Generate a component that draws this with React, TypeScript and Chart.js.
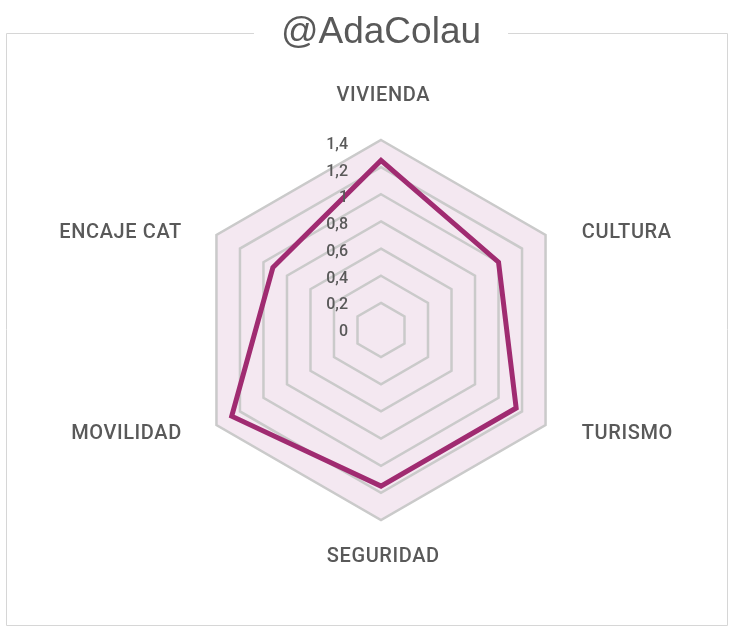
import React, { useEffect, useRef } from "react";
import { Chart, registerables } from "chart.js";

Chart.register(...registerables);

const titleText = "@AdaColau";
const categories = ["VIVIENDA", "CULTURA", "TURISMO", "SEGURIDAD", "MOVILIDAD", "ENCAJE CAT"];
const seriesValues = [1.25, 1.0, 1.15, 1.15, 1.27, 0.92];
const tickValues = [0, 0.2, 0.4, 0.6, 0.8, 1, 1.2, 1.4];
const tickLabels = ["0", "0,2", "0,4", "0,6", "0,8", "1", "1,2", "1,4"];

const TEXT = "#595959";
const TITLE_FONT = "normal 37px 'Liberation Sans', Arial, sans-serif";

const framePlugin = {
  id: "frame",
  beforeDraw(chart: any) {
    const ctx = chart.ctx;
    const r = chart.scales.r;
    ctx.save();
    ctx.beginPath();
    for (let i = 0; i < categories.length; i++) {
      const p = r.getPointPosition(i, r.drawingArea);
      if (i === 0) ctx.moveTo(p.x, p.y);
      else ctx.lineTo(p.x, p.y);
    }
    ctx.closePath();
    ctx.fillStyle = "#f4e8f1";
    ctx.fill();

    ctx.font = TITLE_FONT;
    const tw = ctx.measureText(titleText).width;
    const tb = chart.titleBlock;
    const cx = (tb.left + tb.right) / 2;
    const gl = cx - tw / 2 - 27;
    const gr = cx + tw / 2 + 27;
    const L = 6.5, T = 33.5, R = 727.5, B = 625.5;
    ctx.strokeStyle = "#d6d6d6";
    ctx.lineWidth = 1;
    ctx.beginPath();
    ctx.moveTo(gl, T);
    ctx.lineTo(L, T);
    ctx.lineTo(L, B);
    ctx.lineTo(R, B);
    ctx.lineTo(R, T);
    ctx.lineTo(gr, T);
    ctx.stroke();
    ctx.restore();
  },
  afterDraw(chart: any) {
    const ctx = chart.ctx;
    const r = chart.scales.r;
    const R = r.drawingArea;
    ctx.save();
    ctx.fillStyle = TEXT;
    ctx.font = "500 16px Roboto, sans-serif";
    ctx.textAlign = "right";
    ctx.textBaseline = "middle";
    tickValues.forEach((v, i) => {
      const d = r.getDistanceFromCenterForValue(v);
      ctx.fillText(tickLabels[i], r.xCenter - 33, r.yCenter - d + 2 + v * 2);
    });
    ctx.font = "500 20px Roboto, sans-serif";
    const ls = 0.6;
    (ctx as any).letterSpacing = ls + "px";
    categories.forEach((c, i) => {
      const v = r.getPointPosition(i, R);
      const dx = v.x - r.xCenter;
      const dy = v.y - r.yCenter;
      if (Math.abs(dx) < 1) {
        ctx.textAlign = "center";
        const p = r.getPointPosition(i, dy < 0 ? R + 44 : R + 37);
        ctx.fillText(c, p.x + 2 + ls / 2, p.y);
      } else {
        const p = r.getPointPosition(i, R + 13);
        const y = p.y + (dy < 0 ? 4 : 2);
        if (dx > 0) {
          ctx.textAlign = "left";
          ctx.fillText(c, p.x + 25, y);
        } else {
          ctx.textAlign = "right";
          ctx.fillText(c, p.x - 24 + ls, y);
        }
      }
    });
    ctx.restore();
  },
};

export default function App() {
  const ref = useRef<HTMLCanvasElement>(null);
  useEffect(() => {
    if (!ref.current) return;
    const chart = new Chart(ref.current, {
      type: "radar",
      data: {
        labels: categories,
        datasets: [
          {
            label: titleText,
            data: seriesValues,
            borderColor: "#a02b71",
            borderWidth: 5,
            pointRadius: 0,
            pointHoverRadius: 0,
            fill: false,
            tension: 0,
            borderJoinStyle: "miter",
          },
        ],
      },
      options: {
        animation: false,
        responsive: false,
        maintainAspectRatio: false,
        layout: { padding: { left: 191, right: 158, top: 0, bottom: 114 } },
        plugins: {
          legend: { display: false },
          tooltip: { enabled: false },
          title: {
            display: true,
            text: titleText,
            color: TEXT,
            font: { family: "'Liberation Sans', Arial, sans-serif", size: 37, weight: "normal", lineHeight: 1.2 },
            padding: { top: 11, bottom: 140 - 11 - 44.4 },
          },
        },
        scales: {
          r: {
            min: 0,
            max: 1.4,
            ticks: { display: false, stepSize: 0.2 },
            grid: { color: "#cacaca", lineWidth: 2.5 },
            angleLines: { display: false },
            pointLabels: { display: false },
          },
        },
      },
      plugins: [framePlugin],
    });
    return () => chart.destroy();
  }, []);
  return (
    <div style={{ position: "fixed", left: 0, top: 0, width: 729, height: 634, background: "#fff" }}>
      <canvas ref={ref} width={729} height={634} style={{ display: "block", width: 729, height: 634 }} />
    </div>
  );
}
